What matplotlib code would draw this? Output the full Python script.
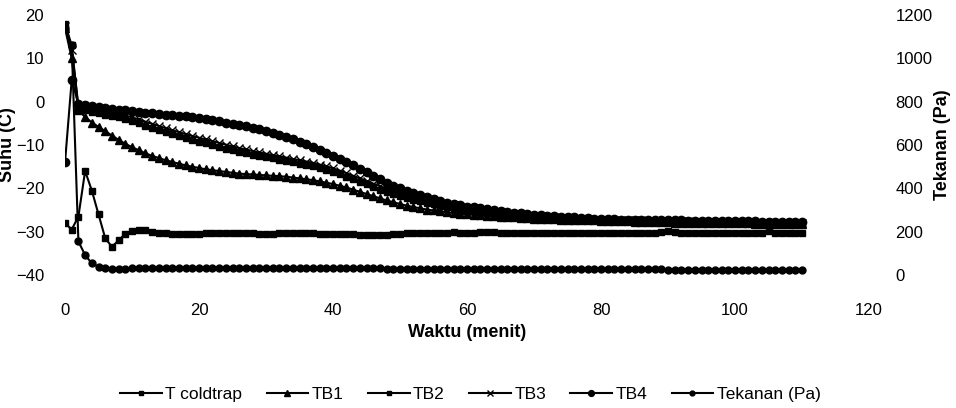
import matplotlib
matplotlib.use("Agg")
import matplotlib.pyplot as plt

plt.rcParams.update({"font.family": ["Liberation Sans", "DejaVu Sans"]})

# time, minutes (one reading per minute)
waktu = list(range(111))

t_coldtrap = [
    -28.0, -29.5, -26.5, -16.0, -20.5, -26.0, -31.5, -33.5, -32.0, -30.5,
    -29.8, -29.6, -29.7, -30.0, -30.3, -30.4, -30.5, -30.5, -30.5, -30.5,
    -30.5, -30.4, -30.4, -30.4, -30.2, -30.2, -30.3, -30.4, -30.4, -30.5,
    -30.5, -30.5, -30.4, -30.3, -30.3, -30.2, -30.3, -30.4, -30.5, -30.5,
    -30.5, -30.5, -30.5, -30.6, -30.8, -30.8, -30.8, -30.8, -30.7, -30.5,
    -30.5, -30.4, -30.4, -30.4, -30.4, -30.4, -30.3, -30.3, -30.1, -30.3,
    -30.3, -30.3, -30.0, -30.1, -30.0, -30.2, -30.3, -30.2, -30.2, -30.2,
    -30.2, -30.2, -30.2, -30.2, -30.2, -30.2, -30.2, -30.2, -30.2, -30.2,
    -30.2, -30.2, -30.2, -30.2, -30.2, -30.2, -30.2, -30.2, -30.2, -30.0,
    -29.9, -30.1, -30.2, -30.2, -30.2, -30.2, -30.2, -30.2, -30.2, -30.2,
    -30.2, -30.2, -30.2, -30.2, -30.2, -29.9, -30.2, -30.2, -30.2, -30.2,
    -30.2]

tb1 = [
    17.0, 10.0, -2.0, -3.5, -4.8, -5.8, -6.8, -7.8, -8.8, -9.7,
    -10.5, -11.2, -11.9, -12.5, -13.0, -13.5, -13.9, -14.3, -14.7, -15.0,
    -15.3, -15.6, -15.8, -16.0, -16.2, -16.4, -16.6, -16.7, -16.8, -16.9,
    -17.0, -17.1, -17.2, -17.3, -17.5, -17.7, -17.9, -18.1, -18.4, -18.7,
    -19.0, -19.4, -19.8, -20.3, -20.8, -21.3, -21.8, -22.3, -22.8, -23.2,
    -23.6, -24.0, -24.3, -24.6, -24.9, -25.1, -25.3, -25.5, -25.7, -25.9,
    -26.0, -26.1, -26.2, -26.3, -26.4, -26.5, -26.6, -26.7, -26.8, -26.9,
    -27.0, -27.0, -27.1, -27.1, -27.2, -27.2, -27.3, -27.3, -27.4, -27.4,
    -27.5, -27.5, -27.6, -27.6, -27.6, -27.7, -27.7, -27.7, -27.8, -27.8,
    -27.8, -27.9, -27.9, -27.9, -27.9, -28.0, -28.0, -28.0, -28.0, -28.1,
    -28.1, -28.1, -28.1, -28.2, -28.2, -28.2, -28.2, -28.2, -28.2, -28.3,
    -28.3]

tb2 = [
    18.0, 13.0, -1.5, -1.9, -2.3, -2.7, -3.0, -3.3, -3.6, -4.0,
    -4.5, -5.0, -5.5, -6.0, -6.5, -7.0, -7.5, -7.9, -8.4, -8.8,
    -9.2, -9.6, -10.0, -10.4, -10.8, -11.2, -11.5, -11.9, -12.2, -12.5,
    -12.8, -13.1, -13.4, -13.7, -14.0, -14.3, -14.6, -14.9, -15.3, -15.7,
    -16.2, -16.7, -17.3, -17.9, -18.5, -19.1, -19.7, -20.3, -20.8, -21.3,
    -21.8, -22.2, -22.6, -23.0, -23.4, -23.7, -24.0, -24.3, -24.6, -24.9,
    -25.1, -25.3, -25.5, -25.7, -25.9, -26.1, -26.2, -26.4, -26.5, -26.6,
    -26.7, -26.8, -26.9, -27.0, -27.1, -27.1, -27.2, -27.3, -27.3, -27.4,
    -27.4, -27.5, -27.5, -27.5, -27.6, -27.6, -27.6, -27.7, -27.7, -27.7,
    -27.7, -27.8, -27.8, -27.8, -27.8, -27.9, -27.9, -27.9, -27.9, -28.0,
    -28.0, -28.0, -28.0, -28.0, -28.1, -28.1, -28.1, -28.1, -28.1, -28.1,
    -28.1]

tb3 = [
    17.5, 12.0, -1.0, -1.3, -1.7, -2.0, -2.3, -2.6, -2.9, -3.2,
    -3.6, -4.1, -4.6, -5.1, -5.6, -6.1, -6.6, -7.0, -7.5, -7.9,
    -8.3, -8.7, -9.1, -9.5, -9.9, -10.3, -10.7, -11.0, -11.4, -11.7,
    -12.0, -12.3, -12.6, -12.9, -13.2, -13.5, -13.8, -14.1, -14.5, -14.9,
    -15.4, -15.9, -16.5, -17.1, -17.7, -18.3, -18.9, -19.5, -20.1, -20.6,
    -21.1, -21.6, -22.0, -22.4, -22.8, -23.2, -23.5, -23.8, -24.1, -24.4,
    -24.7, -24.9, -25.1, -25.3, -25.5, -25.7, -25.9, -26.0, -26.2, -26.3,
    -26.4, -26.5, -26.6, -26.7, -26.8, -26.9, -27.0, -27.0, -27.1, -27.2,
    -27.2, -27.3, -27.3, -27.3, -27.4, -27.4, -27.4, -27.5, -27.5, -27.5,
    -27.6, -27.6, -27.6, -27.6, -27.7, -27.7, -27.7, -27.7, -27.8, -27.8,
    -27.8, -27.8, -27.8, -27.9, -27.9, -27.9, -27.9, -27.9, -27.9, -28.0,
    -28.0]

tb4 = [
    -14.0, 5.0, -0.5, -0.8, -1.0, -1.2, -1.4, -1.6, -1.8, -2.0,
    -2.2, -2.4, -2.5, -2.7, -2.8, -3.0, -3.1, -3.3, -3.4, -3.6,
    -3.8, -4.0, -4.2, -4.5, -4.8, -5.1, -5.4, -5.7, -6.0, -6.4,
    -6.8, -7.2, -7.7, -8.2, -8.7, -9.2, -9.8, -10.5, -11.2, -11.8,
    -12.5, -13.2, -13.9, -14.7, -15.5, -16.3, -17.1, -17.9, -18.7, -19.4,
    -20.0, -20.6, -21.1, -21.6, -22.1, -22.5, -22.9, -23.3, -23.6, -23.9,
    -24.2, -24.4, -24.6, -24.8, -25.0, -25.2, -25.4, -25.6, -25.8, -26.0,
    -26.1, -26.2, -26.3, -26.4, -26.5, -26.6, -26.7, -26.8, -26.9, -27.0,
    -27.0, -27.1, -27.1, -27.2, -27.2, -27.2, -27.3, -27.3, -27.3, -27.4,
    -27.4, -27.4, -27.4, -27.5, -27.5, -27.5, -27.5, -27.5, -27.6, -27.6,
    -27.6, -27.6, -27.6, -27.6, -27.7, -27.7, -27.7, -27.7, -27.7, -27.7,
    -27.7]

tekanan = [
    1140, 1060, 155, 92, 54, 38, 30, 28, 28, 29,
    30, 30, 30, 31, 30, 30, 30, 30, 30, 30,
    30, 30, 30, 30, 30, 30, 30, 30, 30, 30,
    30, 30, 30, 30, 30, 30, 30, 30, 30, 30,
    30, 30, 30, 30, 30, 30, 30, 30, 29, 29,
    29, 29, 29, 29, 29, 29, 29, 29, 29, 28,
    28, 28, 28, 28, 28, 28, 28, 28, 28, 28,
    27, 27, 27, 27, 27, 27, 27, 27, 27, 27,
    26, 26, 26, 26, 26, 26, 26, 26, 26, 26,
    25, 25, 25, 25, 25, 25, 25, 25, 25, 25,
    25, 25, 25, 24, 24, 24, 24, 24, 24, 24,
    24]

FS = 12
fig = plt.figure(figsize=(9.56, 4.08), dpi=100)
ax = fig.add_axes([0.068, 0.326, 0.841, 0.637])
ax2 = ax.twinx()

kw = dict(color="black", linewidth=1.5, markeredgewidth=1.0)
h1, = ax.plot(waktu, t_coldtrap, marker="s", markersize=5, label="T coldtrap", **kw)
h2, = ax.plot(waktu, tb1, marker="^", markersize=6, label="TB1", **kw)
h3, = ax.plot(waktu, tb2, marker="s", markersize=5, label="TB2", **kw)
h4, = ax.plot(waktu, tb3, marker="x", markersize=6, label="TB3", **kw)
h5, = ax.plot(waktu, tb4, marker="o", markersize=6, label="TB4", **kw)
h6, = ax2.plot(waktu, tekanan, marker="o", markersize=5, label="Tekanan (Pa)", **kw)

ax.set_xlim(0, 120)
ax.set_ylim(-40, 20)
ax2.set_ylim(0, 1200)
ax.set_xticks(range(0, 121, 20))
ax.set_yticks(range(-40, 21, 10))
ax2.set_yticks(range(0, 1201, 200))

for a in (ax, ax2):
    for s in a.spines.values():
        s.set_visible(False)
    a.tick_params(length=0, labelsize=FS)
ax.tick_params(axis="x", pad=20)
ax.tick_params(axis="y", pad=15)
ax2.tick_params(axis="y", pad=19)

ax.set_xlabel("Waktu (menit)", fontsize=13, fontweight="bold")
ax.xaxis.set_label_coords(0.5, -0.22)
ax.xaxis.label.set_va("center")
ax.set_ylabel("Suhu (C)", fontsize=13, fontweight="bold")
ax.yaxis.set_label_coords(-0.071, 0.5)
ax.yaxis.label.set_va("center")
ax2.set_ylabel("Tekanan (Pa)", fontsize=13, fontweight="bold")
ax2.yaxis.set_label_coords(1.091, 0.5)
ax2.yaxis.label.set_va("center")

fig.legend(handles=[h1, h2, h3, h4, h5, h6], loc="center", ncol=6,
           bbox_to_anchor=(0.492, 1 - 394 / 408), frameon=False, fontsize=12.5,
           handlelength=2.4, handletextpad=0.2, columnspacing=1.4, markerscale=0.7)

fig.savefig("out.png", dpi=100, facecolor="white")
